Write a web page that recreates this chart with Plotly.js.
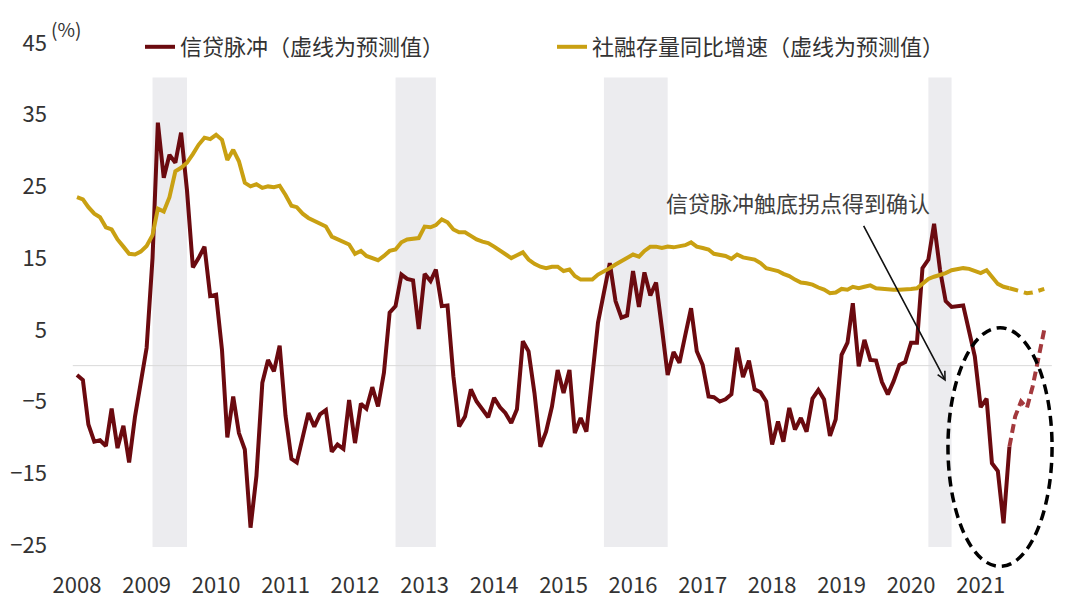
<!DOCTYPE html>
<html>
<head>
<meta charset="utf-8">
<script src="https://cdn.plot.ly/plotly-3.0.1.min.js"></script>
<style>
  html, body { margin: 0; padding: 0; background: #fff; }
  #chart { width: 1080px; height: 604px; }
</style>
</head>
<body>
<div id="chart"></div>
<script>
// monthly data, Jan 2008 .. Jun 2021 (actual), Jun 2021 .. Dec 2021 (forecast)
var startYear = 2008
var creditImpulse = [
  -1.3, -2.0, -8.2, -10.6, -10.4, -11.2, -6.0, -11.5, -8.4, -13.5, -7.1, -2.4,
  2.5, 15.0, 33.9, 26.2, 29.4, 28.3, 32.5, 24.5, 13.7, 15.0, 16.6, 9.7,
  9.9, 2.2, -10.0, -4.3, -9.4, -11.7, -22.6, -15.4, -2.4, 0.8, -0.8, 2.8,
  -7.0, -13.0, -13.5, -10.0, -6.6, -8.5, -6.8, -6.2, -12.0, -11.0, -11.6, -4.8,
  -10.8, -5.3, -6.0, -3.0, -5.7, -1.0, 7.4, 8.3, 12.7, 12.1, 11.9, 5.1,
  12.8, 11.8, 13.4, 8.3, 8.4, -1.5, -8.5, -7.1, -3.3, -5.0, -6.2, -7.2,
  -4.5, -5.8, -6.6, -8.0, -6.1, 3.4, 2.0, -3.8, -11.3, -9.2, -5.7, -0.6,
  -3.8, -0.6, -9.4, -7.3, -9.2, -1.6, 6.0, 10.2, 14.3, 9.0, 6.7, 7.0,
  13.2, 8.2, 13.0, 9.8, 11.6, 5.2, -1.3, 1.9, 0.4, 4.2, 8.0, 2.0,
  0.1, -4.3, -4.4, -5.0, -4.7, -4.0, 2.5, -1.6, 0.7, -3.3, -3.7, -5.0,
  -11.0, -7.8, -10.6, -5.9, -8.9, -7.3, -9.2, -4.6, -3.4, -4.7, -9.8, -7.5,
  1.5, 3.2, 8.7, -0.1, 3.6, 0.8, 0.7, -2.3, -4.0, -2.2, 0.1, 0.5,
  3.2, 3.2, 13.6, 14.8, 19.8, 13.4, 9.0, 8.2, 8.3, 8.4, 4.8, 1.3,
  -5.8, -4.6, -13.6, -14.7, -22.0, -11.3
]
var creditImpulseForecast = [-11.3, -7.1, -5.0, -5.9, -2.9, 0.8, 5.0]

var tsfGrowth = [
  23.5, 23.2, 22.1, 21.2, 20.7, 19.3, 19.0, 17.6, 16.6, 15.6, 15.5, 15.9,
  16.7, 18.2, 21.9, 21.5, 23.5, 27.1, 27.6, 28.3, 29.5, 30.8, 31.8, 31.6,
  32.2, 31.5, 28.7, 30.1, 28.5, 25.5, 25.0, 25.3, 24.8, 25.0, 24.9, 25.1,
  23.8, 22.3, 22.1, 21.2, 20.6, 20.2, 19.8, 19.4, 18.0, 17.6, 17.2, 16.9,
  15.6, 16.0, 15.3, 15.0, 14.7, 15.3, 16.0, 16.2, 17.2, 17.6, 17.7, 17.8,
  19.4, 19.3, 19.6, 20.4, 20.0, 19.0, 18.6, 18.6, 18.1, 17.6, 17.3, 17.1,
  16.6, 16.1, 15.5, 15.0, 15.4, 15.8, 14.8, 14.2, 13.8, 13.6, 13.8, 13.8,
  13.2, 13.4, 12.5, 12.0, 12.0, 12.0, 12.7, 13.1, 13.6, 14.1, 14.6, 15.0,
  15.5, 15.2, 16.0, 16.6, 16.6, 16.4, 16.6, 16.5, 16.6, 16.8, 17.2, 16.6,
  16.4, 16.2, 15.6, 15.4, 15.3, 14.9, 15.5, 15.1, 14.9, 14.8, 14.3, 13.6,
  13.4, 13.2, 12.8, 12.5, 12.0, 11.6, 11.5, 11.3, 10.9, 10.6, 10.1, 10.2,
  10.7, 10.6, 11.0, 10.8, 11.0, 11.2, 10.8, 10.7, 10.6, 10.6, 10.6, 10.6,
  10.7, 10.8, 11.5, 12.1, 12.4, 12.6, 12.9, 13.3, 13.5, 13.6, 13.5, 13.2,
  12.9, 13.3, 12.3, 11.4, 11.0, 10.8
]
var tsfGrowthForecast = [10.8, 10.6, 10.4, 10.1, 10.2, 10.4, 10.7]

// shaded periods
var shadeStart = ['2009-02-01', '2012-08-01', '2015-08-01', '2020-04-01']
var shadeEnd = ['2009-08-01', '2013-03-01', '2016-07-01', '2020-08-01']

var yTicks = [-25, -15, -5, 5, 15, 25, 35, 45]
var yearLabels = ['2008', '2009', '2010', '2011', '2012', '2013', '2014',
  '2015', '2016', '2017', '2018', '2019', '2020', '2021']

var RED = '#6b0a0f'
var RED_DASH = '#a3393d'
var GOLD = '#c9a012'
var FONT = '"Noto Sans CJK SC", "Noto Sans", sans-serif'

// plot box in pixels, used to place the free texts
var L = 57, R = 15, T = 43, B = 34
var PW = 1080 - L - R, PH = 604 - T - B

function monthLabel (i) {
  var y = startYear + Math.floor(i / 12)
  var m = (i % 12) + 1
  return y + '-' + (m < 10 ? '0' + m : m) + '-01'
}

var dates = creditImpulse.map(function (v, i) { return monthLabel(i) })
var forecastDates = creditImpulseForecast.map(function (v, i) {
  return monthLabel(creditImpulse.length - 1 + i)
})

var traces = [
  {
    x: dates, y: creditImpulse, name: '信贷脉冲（虚线为预测值）',
    mode: 'lines', line: { color: RED, width: 4 }
  },
  {
    x: dates, y: tsfGrowth, name: '社融存量同比增速（虚线为预测值）',
    mode: 'lines', line: { color: GOLD, width: 4 }
  },
  {
    x: forecastDates, y: creditImpulseForecast, showlegend: false,
    mode: 'lines', line: { color: RED_DASH, width: 4, dash: '9px,5px' }
  },
  {
    x: forecastDates, y: tsfGrowthForecast, showlegend: false,
    mode: 'lines', line: { color: GOLD, width: 4, dash: '9px,6px' }
  }
]

var shapes = shadeStart.map(function (s, i) {
  return {
    type: 'rect', layer: 'below', xref: 'x', yref: 'y',
    x0: s, x1: shadeEnd[i], y0: -25.3, y1: 40.2,
    fillcolor: '#ececef', line: { width: 0 }
  }
})
// zero line
shapes.push({
  type: 'line', layer: 'below', xref: 'x', yref: 'y',
  x0: '2007-12-10', x1: '2022-01-10', y0: 0, y1: 0,
  line: { color: '#d9d9d9', width: 1 }
})
// dashed ellipse round the trough
shapes.push({
  type: 'circle', xref: 'x', yref: 'y',
  x0: '2020-07-13', x1: '2022-01-11', y0: -28.0, y1: 5.3,
  line: { color: '#000', width: 3.5, dash: '10px,6px' }
})

var layout = {
  width: 1080,
  height: 604,
  margin: { l: L, r: R, t: T, b: B, autoexpand: false },
  paper_bgcolor: '#fff',
  plot_bgcolor: '#fff',
  font: { family: FONT, size: 22, color: '#333' },
  showlegend: true,
  legend: {
    orientation: 'h',
    xref: 'paper', yref: 'paper',
    x: (140 - L) / PW, y: 1 - (47 - T) / PH, yanchor: 'middle', xanchor: 'left',
    entrywidth: 367, entrywidthmode: 'pixels',
    font: { size: 22, color: '#333' },
    bgcolor: 'rgba(0,0,0,0)'
  },
  xaxis: {
    type: 'date',
    range: ['2007-09-18', '2022-03-20'],
    tickvals: yearLabels.map(function (y) { return y + '-01-01' }),
    ticktext: yearLabels,
    showgrid: false, zeroline: false, showline: false, ticks: '',
    tickfont: { size: 22, color: '#333' }
  },
  yaxis: {
    range: [-28.5, 45],
    tickvals: yTicks,
    ticklabelstandoff: 9,
    showgrid: false, zeroline: false, showline: false, ticks: '',
    tickfont: { size: 22, color: '#333' }
  },
  shapes: shapes,
  annotations: [
    {
      xref: 'paper', yref: 'paper', x: (49 - L) / PW, y: 1 + (T - 29) / PH,
      xanchor: 'left', yanchor: 'middle',
      text: '(%)', showarrow: false, font: { size: 19, color: '#333' }
    },
    {
      xref: 'paper', yref: 'paper', x: (798 - L) / PW, y: 1 - (202 - T) / PH,
      xanchor: 'center', yanchor: 'middle',
      text: '信贷脉冲触底拐点得到确认', showarrow: false,
      font: { size: 22, color: '#404040' }
    },
    {
      xref: 'x', yref: 'y', x: '2020-07-02', y: -2.2,
      ax: -83, ay: -157, text: '', showarrow: true,
      arrowhead: 5, arrowsize: 1, arrowwidth: 1.6, arrowcolor: '#111'
    }
  ]
}

Plotly.newPlot('chart', traces, layout, { displayModeBar: false, staticPlot: true })
</script>
</body>
</html>
